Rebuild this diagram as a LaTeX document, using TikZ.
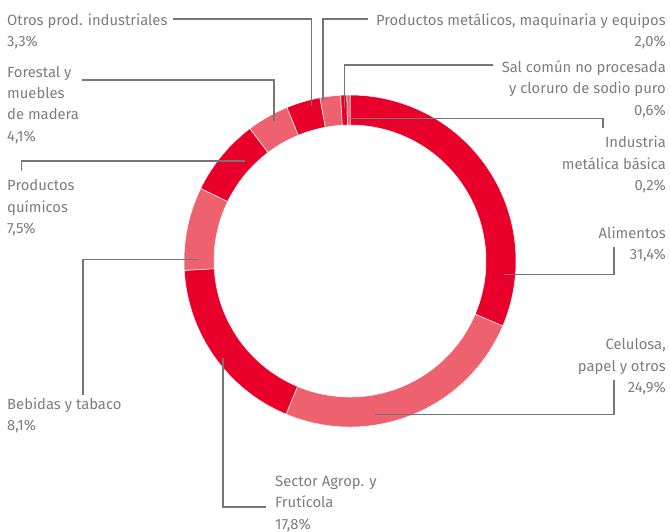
\documentclass[tikz,border=0pt]{standalone}
\usepackage{fontspec}
\setmainfont{Fira Sans}
\definecolor{rojo}{RGB}{232,0,42}
\definecolor{rosa}{RGB}{237,98,110}
\definecolor{texto}{RGB}{125,125,125}
\definecolor{guia}{RGB}{118,118,118}
\tikzset{
    etiqueta/.style={inner sep=0pt, text=texto, font=\fontsize{14.8}{21.3}\selectfont},
    izq/.style={etiqueta, anchor=north west, align=left},
    der/.style={etiqueta, anchor=north east, align=right},
    guialinea/.style={draw=guia, line width=1.2pt},
}

\begin{document}
\begin{tikzpicture}[x=1pt, y=1pt]
    \useasboundingbox (0, 0) rectangle (670, -532);
    \coordinate (centro) at (350, -261);
    % anillo: inicio/fin en porcentaje
    \foreach \ini/\fin/\col in {0/31.4/rojo, 31.4/56.3/rosa, 56.3/74.1/rojo, 74.1/82.2/rosa,
            82.2/89.7/rojo, 89.7/93.8/rosa, 93.8/97.1/rojo, 97.1/99.1/rosa, 99.1/99.7/rojo, 99.7/100/rosa} {
        \pgfmathsetmacro{\a}{90-3.6*\ini}
        \pgfmathsetmacro{\b}{90-3.6*\fin}
        \filldraw[fill=\col, draw=white, line width=0.5pt]
            ([shift={(\a:166)}]centro) arc[start angle=\a, end angle=\b, radius=166]
            -- ([shift={(\b:136)}]centro) arc[start angle=\b, end angle=\a, radius=136] -- cycle;
    }

    \node[izq] (otros) at (7, -13.5) {Otros prod. industriales\\3,3\%};
    \node[izq] (forestal) at (7, -66) {Forestal y\\muebles\\de madera\\4,1\%};
    \node[izq] (quimicos) at (7, -179.5) {Productos\\químicos\\7,5\%};
    \node[izq] (bebidas) at (7, -397.5) {Bebidas y tabaco\\8,1\%};
    \node[izq] (sector) at (275, -476) {Sector Agrop. y\\Frutícola\\17,8\%};
    \node[der] (celulosa) at (666, -338.5) {Celulosa,\\papel y otros\\24,9\%};
    \node[der] (alimentos) at (666, -226.5) {Alimentos\\31,4\%};
    \node[der] (industria) at (666, -136) {Industria\\metálica básica\\0,2\%};
    \node[der] (sal) at (666, -60.5) {Sal común no procesada\\y cloruro de sodio puro\\0,6\%};
    \node[der] (metalicos) at (666, -13.5) {Productos metálicos, maquinaria y equipos\\2,0\%};

    \coordinate (p-otros) at (311.7, -106.5);
    \coordinate (p-forestal) at (274, -121);
    \coordinate (p-quimicos) at (245, -161);
    \coordinate (p-bebidas) at (199, -259.5);
    \coordinate (p-sector) at (223, -358);
    \coordinate (p-celulosa) at (375, -414.5);
    \coordinate (p-alimentos) at (504, -274.5);
    \coordinate (p-industria) at (349, -118.5);
    \coordinate (p-sal) at (344.3, -108);
    \coordinate (p-metalicos) at (323, -100);

    \draw[guialinea] ([xshift=5pt, yshift=-5.5pt]otros.north east) -| (p-otros);
    \draw[guialinea] ([xshift=75pt, yshift=-14pt]forestal.north west) -| (p-forestal);
    \draw[guialinea] (p-quimicos) -| ([xshift=14.5pt, yshift=8.5pt]quimicos.north west);
    \draw[guialinea] (p-bebidas) -| ([xshift=76pt, yshift=2.5pt]bebidas.north west);
    \draw[guialinea] ([xshift=-9pt, yshift=-31pt]sector.north west) -| (p-sector);
    \draw[guialinea] (p-celulosa) -| ([xshift=-52pt, yshift=-41.5pt]celulosa.north east);
    \draw[guialinea] (p-alimentos) -| ([xshift=-52pt, yshift=-20.5pt]alimentos.north east);
    \draw[guialinea] (p-industria) -| ([xshift=-63pt, yshift=8pt]industria.north east);
    \draw[guialinea] ([xshift=-9pt, yshift=-4.5pt]sal.north west) -| (p-sal);
    \draw[guialinea] ([xshift=-8pt, yshift=-5.5pt]metalicos.north west) -| (p-metalicos);
\end{tikzpicture}
\end{document}
